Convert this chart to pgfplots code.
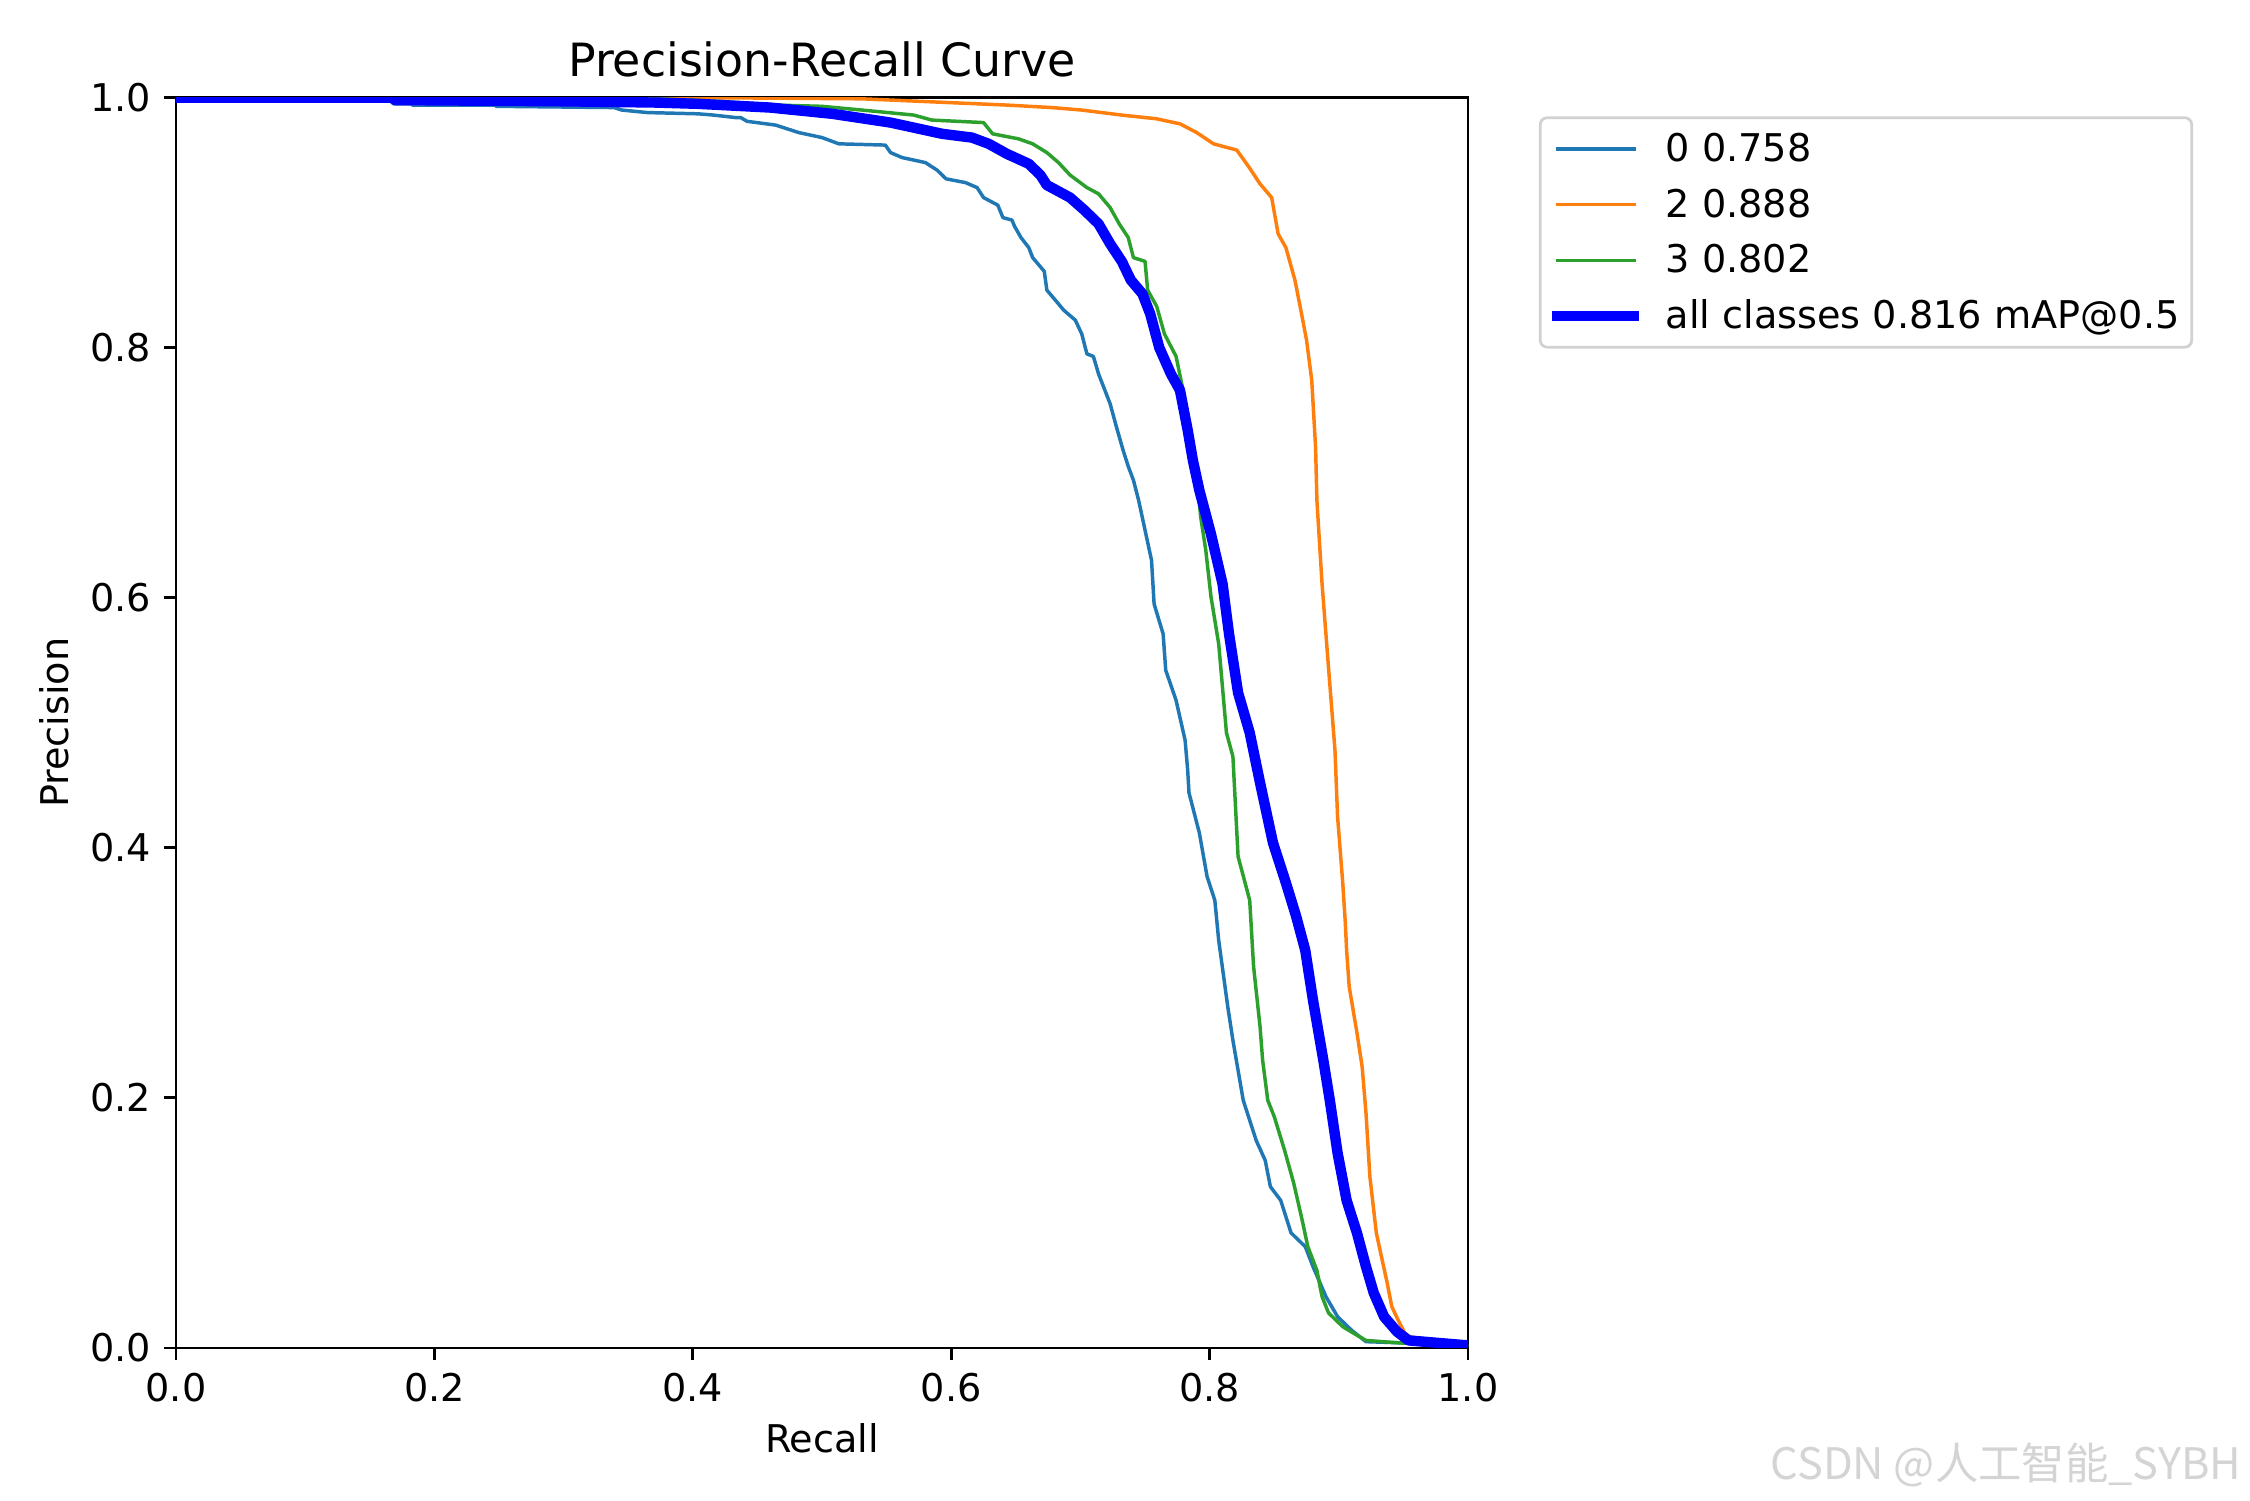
\documentclass[border=0pt]{standalone}
\usepackage{pgfplots}
\pgfplotsset{compat=1.18}
\usepackage{fontspec}
\setmainfont{DejaVu Sans}
\newfontfamily\cjk{Noto Sans CJK SC}
\definecolor{c0}{HTML}{1F77B4}
\definecolor{c1}{HTML}{FF7F0E}
\definecolor{c2}{HTML}{2CA02C}
\begin{document}
\begin{tikzpicture}
\useasboundingbox (-50.7pt,-43.8pt) rectangle (597.3pt,388.2pt);
\begin{axis}[
  at={(0,0)}, anchor=south west,
  scale only axis, width=372.1pt, height=360.1pt,
  xmin=0, xmax=1, ymin=0, ymax=1,
  xtick={0,0.2,0.4,0.6,0.8,1}, ytick={0,0.2,0.4,0.6,0.8,1},
  xticklabels={0.0,0.2,0.4,0.6,0.8,1.0},
  yticklabels={0.0,0.2,0.4,0.6,0.8,1.0},
  tick pos=left, tick align=outside, major tick length=3.5pt,
  every tick/.style={black, line width=0.8pt},
  axis line style={line width=0.8pt},
  font=\fontsize{11}{13}\selectfont,
  xticklabel style={anchor=north, inner sep=0pt, yshift=-3.5pt},
  yticklabel style={anchor=east, inner sep=0pt, xshift=-3.5pt},
  title={Precision-Recall Curve},
  title style={at={(axis description cs:0.5,1)}, anchor=base, yshift=0pt, inner sep=0pt, font=\fontsize{13.2}{15}\selectfont},
  xlabel={Recall},
  xlabel style={at={(axis description cs:0.5,0)}, anchor=base, yshift=-30pt, inner sep=0pt},
  no markers,
  legend cell align=left,
  legend image code/.code={\draw[#1, line cap=rect] (0pt,0pt) -- (22pt,0pt);},
  legend style={at={(1,1)}, anchor=north west, xshift=20.4pt, yshift=-5.4pt,
    draw=black!18, line width=0.8pt, rounded corners=2pt, fill=white,
    inner xsep=3.5pt, inner ysep=4.4pt, column sep=7.6pt, row sep=6.7pt,
    nodes={inner sep=0pt, text height=8.3pt, text depth=1pt, font=\fontsize{11}{13}\selectfont}},
]
\addplot[c0, line width=1pt, line join=round] coordinates {
(0,1.0) (0.166,1.0) (0.168,0.995) (0.182,0.995) (0.183,0.994) (0.247,0.994) (0.248,0.993)
(0.339,0.992) (0.345,0.990) (0.365,0.988) (0.404,0.987) (0.416,0.986) (0.433,0.984)
(0.437,0.984) (0.442,0.981) (0.464,0.978) (0.482,0.972) (0.500,0.968) (0.513,0.963)
(0.549,0.962) (0.553,0.956) (0.562,0.952) (0.580,0.948) (0.589,0.942) (0.596,0.935)
(0.611,0.932) (0.620,0.928) (0.625,0.920) (0.636,0.914) (0.640,0.904) (0.647,0.902)
(0.649,0.897) (0.654,0.888) (0.660,0.880) (0.663,0.872) (0.672,0.861) (0.674,0.846)
(0.683,0.835) (0.687,0.830) (0.696,0.822) (0.701,0.811) (0.705,0.795) (0.710,0.793)
(0.714,0.779) (0.723,0.755) (0.728,0.736) (0.733,0.718) (0.737,0.705) (0.741,0.694)
(0.745,0.678) (0.750,0.654) (0.755,0.630) (0.757,0.595) (0.764,0.571) (0.766,0.542)
(0.774,0.518) (0.781,0.486) (0.783,0.462) (0.784,0.444) (0.792,0.412) (0.798,0.377)
(0.804,0.358) (0.807,0.326) (0.814,0.273) (0.818,0.246) (0.826,0.198) (0.836,0.166)
(0.843,0.150) (0.847,0.129) (0.855,0.118) (0.863,0.092) (0.874,0.081) (0.880,0.065)
(0.890,0.041) (0.899,0.025) (0.910,0.014) (0.921,0.005) (0.950,0.004) (1.0,0.002)
};
\addlegendentry{0 0.758}
\addplot[c1, line width=1pt, line join=round] coordinates {
(0,1.0) (0.40,1.0) (0.531,0.999) (0.598,0.996) (0.643,0.994) (0.678,0.992) (0.701,0.990)
(0.732,0.986) (0.759,0.983) (0.777,0.979) (0.790,0.972) (0.803,0.963) (0.821,0.958)
(0.830,0.945) (0.839,0.931) (0.848,0.920) (0.853,0.891) (0.859,0.880) (0.866,0.854)
(0.870,0.833) (0.875,0.806) (0.879,0.774) (0.882,0.720) (0.883,0.678) (0.887,0.611)
(0.892,0.544) (0.897,0.478) (0.899,0.425) (0.903,0.372) (0.905,0.340) (0.906,0.318)
(0.908,0.289) (0.914,0.252) (0.918,0.225) (0.921,0.188) (0.924,0.137) (0.929,0.092)
(0.934,0.068) (0.937,0.054) (0.941,0.033) (0.946,0.022) (0.951,0.012) (0.954,0.009)
(1.0,0.002)
};
\addlegendentry{2 0.888}
\addplot[c2, line width=1pt, line join=round] coordinates {
(0,1.0) (0.35,1.0) (0.42,0.997) (0.464,0.994) (0.500,0.993) (0.531,0.990) (0.571,0.986)
(0.585,0.982) (0.625,0.980) (0.632,0.971) (0.652,0.967) (0.663,0.963) (0.674,0.956)
(0.683,0.948) (0.692,0.938) (0.705,0.928) (0.714,0.923) (0.723,0.912) (0.730,0.899)
(0.737,0.888) (0.741,0.872) (0.750,0.869) (0.752,0.846) (0.759,0.833) (0.765,0.811)
(0.774,0.793) (0.779,0.768) (0.785,0.730) (0.790,0.700) (0.793,0.665) (0.797,0.638)
(0.801,0.601) (0.807,0.563) (0.813,0.492) (0.818,0.473) (0.822,0.393) (0.831,0.358)
(0.834,0.305) (0.839,0.257) (0.841,0.230) (0.845,0.198) (0.850,0.185) (0.858,0.158)
(0.865,0.132) (0.871,0.105) (0.876,0.081) (0.883,0.062) (0.887,0.041) (0.892,0.028)
(0.903,0.017) (0.911,0.012) (0.921,0.006) (0.947,0.004) (1.0,0.002)
};
\addlegendentry{3 0.802}
\addplot[blue, line width=3pt, line join=round] coordinates {
(0,1.0) (0.166,1.0) (0.170,0.998) (0.300,0.997) (0.372,0.996) (0.404,0.995) (0.460,0.992)
(0.508,0.987) (0.553,0.980) (0.593,0.971) (0.616,0.968) (0.629,0.963) (0.643,0.955)
(0.660,0.947) (0.669,0.938) (0.674,0.930) (0.692,0.920) (0.703,0.910) (0.714,0.899)
(0.723,0.883) (0.732,0.869) (0.739,0.854) (0.748,0.843) (0.754,0.827) (0.761,0.800)
(0.770,0.779) (0.777,0.766) (0.783,0.734) (0.787,0.710) (0.792,0.686) (0.801,0.651)
(0.810,0.611) (0.815,0.571) (0.822,0.524) (0.831,0.492) (0.839,0.452) (0.849,0.404)
(0.859,0.372) (0.867,0.345) (0.874,0.318) (0.880,0.278) (0.888,0.230) (0.893,0.198)
(0.899,0.156) (0.906,0.118) (0.914,0.092) (0.921,0.065) (0.927,0.044) (0.935,0.025)
(0.945,0.013) (0.954,0.006) (1.0,0.002)
};
\addlegendentry{all classes 0.816 mAP@0.5}
\end{axis}
\node[rotate=90, anchor=base, inner sep=0pt, font=\fontsize{11}{13}\selectfont] at (-31.1pt,180.05pt) {Precision};
\node[anchor=base east, inner sep=0pt, text=black!17, font=\cjk\fontsize{12.5}{14}\selectfont] at (595pt,-37.8pt) {CSDN @人工智能\_SYBH};
\end{tikzpicture}
\end{document}
